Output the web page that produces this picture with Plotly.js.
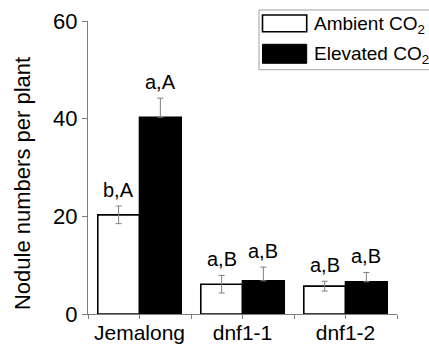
<!DOCTYPE html>
<html>
<head>
<meta charset="utf-8">
<script src="https://cdn.plot.ly/plotly-3.0.1.min.js"></script>
<style>html,body{margin:0;padding:0;background:#fff;}#chart{width:429px;height:345px;}</style>
</head>
<body>
<div id="chart"></div>
<script>
// ---- data ----
const categories = ["Jemalong", "dnf1-1", "dnf1-2"];
const ambientValues = [20.3, 6.1, 5.7];
const ambientErrors = [1.8, 1.8, 1.0];
const elevatedValues = [40.3, 6.8, 6.6];
const elevatedErrors = [3.9, 2.8, 1.9];
const ambientLetters = ["b,A", "a,B", "a,B"];
const elevatedLetters = ["a,A", "a,B", "a,B"];
const seriesNames = ["Ambient CO<sub>2</sub>", "Elevated CO<sub>2</sub>"];
const yTicks = [0, 20, 40, 60];
const yTitle = "Nodule numbers per plant";

const FONT = "Liberation Sans, Arial, sans-serif";
const barOffset = 0.2025;

const traces = [
  {
    type: "bar", name: seriesNames[0], x: categories, y: ambientValues,
    marker: {color: "#ffffff", line: {color: "#000000", width: 1.6}},
    error_y: {type: "data", array: ambientErrors, visible: true, color: "#7f7f7f", thickness: 1, width: 3},
    showlegend: false, hoverinfo: "skip"
  },
  {
    type: "bar", name: seriesNames[1], x: categories, y: elevatedValues,
    marker: {color: "#000000", line: {color: "#000000", width: 1.6}},
    error_y: {type: "data", symmetric: false, array: elevatedErrors,
              arrayminus: elevatedErrors.map(() => 0), visible: true, color: "#7f7f7f", thickness: 1, width: 3},
    showlegend: false, hoverinfo: "skip"
  },
  {
    type: "scatter", mode: "markers", x: categories, y: categories.map(() => 0),
    xaxis: "x2", marker: {opacity: 0}, showlegend: false, hoverinfo: "skip"
  }
];

const annotations = [];
categories.forEach((c, i) => {
  annotations.push({x: i - barOffset, y: ambientValues[i] + ambientErrors[i], xref: "x", yref: "y",
    text: ambientLetters[i], showarrow: false, yanchor: "bottom", yshift: 3,
    font: {family: FONT, size: 20, color: "#000"}});
  annotations.push({x: i + barOffset, y: elevatedValues[i] + elevatedErrors[i], xref: "x", yref: "y",
    text: elevatedLetters[i], showarrow: false, yanchor: "bottom", yshift: 3,
    font: {family: FONT, size: 20, color: "#000"}});
});
// y-axis title
annotations.push({x: -0.2136, y: 0.447, xref: "paper", yref: "paper", text: yTitle, textangle: -90,
  showarrow: false, xanchor: "center", yanchor: "middle", font: {family: FONT, size: 22, color: "#000"}});
// legend texts
annotations.push({x: 0.7249, y: 0.988, xref: "paper", yref: "paper", text: seriesNames[0], showarrow: false,
  xanchor: "left", yanchor: "middle", font: {family: FONT, size: 19, color: "#000"}});
annotations.push({x: 0.7249, y: 0.8823, xref: "paper", yref: "paper", text: seriesNames[1], showarrow: false,
  xanchor: "left", yanchor: "middle", font: {family: FONT, size: 19, color: "#000"}});

const shapes = [
  {type: "rect", xref: "paper", yref: "paper", x0: 0.5534, x1: 1.2, y0: 0.8338, y1: 1.0375,
   line: {color: "#a0a0a0", width: 1}, fillcolor: "rgba(255,255,255,0)"},
  {type: "rect", xref: "paper", yref: "paper", x0: 0.5647, x1: 0.7078, y0: 0.9635, y1: 1.0205,
   line: {color: "#000", width: 1.6}, fillcolor: "#fff"},
  {type: "rect", xref: "paper", yref: "paper", x0: 0.5647, x1: 0.7078, y0: 0.8556, y1: 0.9205,
   line: {color: "#000", width: 1}, fillcolor: "#000"}
];

const layout = {
  width: 429, height: 345,
  margin: {l: 88, r: 32, t: 21, b: 31},
  paper_bgcolor: "#fff", plot_bgcolor: "#fff",
  barmode: "group", bargap: 0.19, bargroupgap: 0,
  showlegend: false,
  font: {family: FONT, color: "#000"},
  xaxis: {type: "category", categoryarray: categories, range: [-0.5, 2.5],
    showline: true, linecolor: "#7f7f7f", linewidth: 1, ticks: "outside", tickson: "boundaries",
    ticklen: 4, tickcolor: "#7f7f7f", showgrid: false, zeroline: false, tickangle: 0,
    ticklabelstandoff: 0, automargin: false,
    tickfont: {family: FONT, size: 21, color: "#000"}},
  xaxis2: {type: "category", categoryarray: categories, range: [-0.5, 2.5], overlaying: "x", anchor: "y",
    side: "bottom", showline: false, ticks: "outside", ticklen: 4, tickcolor: "#7f7f7f",
    showticklabels: false, showgrid: false, zeroline: false},
  yaxis: {range: [0, 60], tickvals: yTicks, showline: true, linecolor: "#7f7f7f", linewidth: 1,
    ticks: "outside", ticklen: 5, tickcolor: "#7f7f7f", showgrid: false, zeroline: false,
    tickfont: {family: FONT, size: 22, color: "#000"}},
  annotations: annotations,
  shapes: shapes
};

Plotly.newPlot("chart", traces, layout, {staticPlot: true, displayModeBar: false});
</script>
</body>
</html>
